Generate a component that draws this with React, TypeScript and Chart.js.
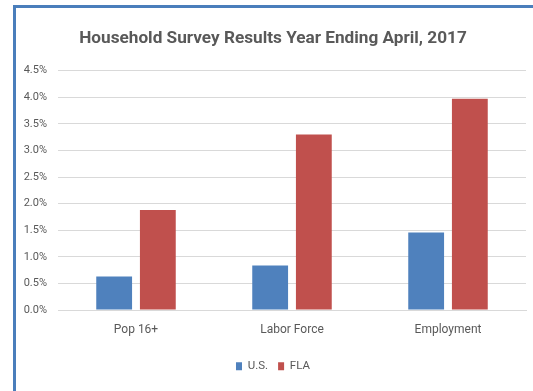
import React, { useEffect, useRef } from "react";
import { Chart, registerables } from "chart.js";

Chart.register(...registerables);

const categories = ["Pop 16+", "Labor Force", "Employment"];
const usValues = [0.63, 0.84, 1.46];
const flaValues = [1.88, 3.3, 3.97];
const seriesNames = ["U.S.", "FLA"];
const titleText = "Household Survey Results Year Ending April, 2017";

const FONT = "'Roboto', sans-serif";
const TEXT = "#595959";

export default function App() {
  const ref = useRef<HTMLCanvasElement | null>(null);

  useEffect(() => {
    document.body.style.margin = "0";
    const canvas = ref.current;
    if (!canvas) return;
    const chart = new Chart(canvas, {
      type: "bar",
      data: {
        labels: categories,
        datasets: [
          {
            label: seriesNames[0],
            data: usValues,
            backgroundColor: "#4f81bd",
            barPercentage: 0.82,
            categoryPercentage: 0.56,
          },
          {
            label: seriesNames[1],
            data: flaValues,
            backgroundColor: "#c0504d",
            barPercentage: 0.82,
            categoryPercentage: 0.56,
          },
        ],
      },
      options: {
        animation: false,
        responsive: false,
        maintainAspectRatio: false,
        layout: { padding: { left: 20, right: 7, top: 10, bottom: 9 } },
        plugins: {
          title: {
            display: true,
            text: titleText,
            color: TEXT,
            font: { family: FONT, size: 17.2, weight: "bold" },
            padding: { top: 18, bottom: 22 },
          },
          legend: {
            position: "bottom",
            labels: {
              color: TEXT,
              font: { family: FONT, size: 11.5 },
              boxWidth: 6,
              boxHeight: 8,
              padding: 10,
            },
          },
          tooltip: { enabled: false },
        },
        scales: {
          x: {
            grid: { display: false, drawTicks: false },
            border: { display: true, color: "#d9d9d9" },
            ticks: { color: TEXT, font: { family: FONT, size: 12 }, padding: 13 },
          },
          y: {
            min: 0,
            max: 4.5,
            afterFit: (scale: any) => {
              scale.width = 38;
            },
            grid: { color: "#d9d9d9", drawTicks: false },
            border: { display: false },
            ticks: {
              stepSize: 0.5,
              color: TEXT,
              font: { family: FONT, size: 11 },
              padding: 11,
              callback: (v: any) => Number(v).toFixed(1) + "%",
            },
          },
        },
      },
    });
    return () => chart.destroy();
  }, []);

  return (
    <div style={{ position: "relative", width: 533, height: 391, background: "#fff", overflow: "hidden" }}>
      <div
        style={{
          position: "absolute",
          left: 13,
          top: 5,
          right: -10,
          bottom: -10,
          borderLeft: "3px solid #4a7ebb",
          borderTop: "3px solid #4a7ebb",
        }}
      />
      <canvas ref={ref} width={533} height={391} style={{ position: "absolute", left: 0, top: 0 }} />
    </div>
  );
}
